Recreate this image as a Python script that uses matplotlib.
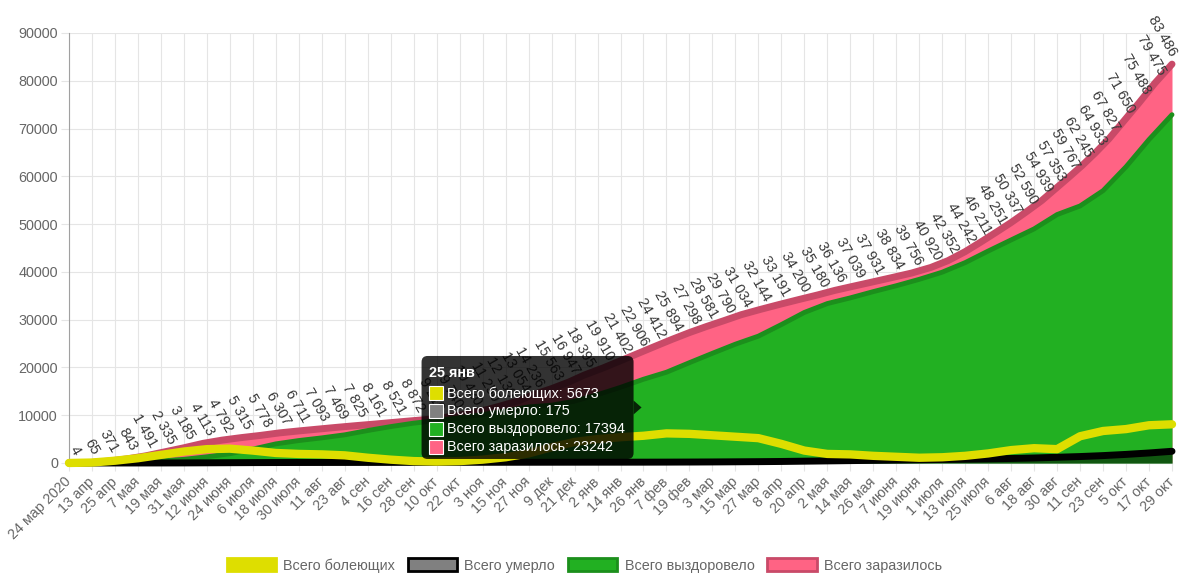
import matplotlib
matplotlib.use('Agg')
import matplotlib.pyplot as plt
from matplotlib.patches import Patch, Rectangle, FancyBboxPatch, Polygon
from matplotlib.transforms import IdentityTransform

plt.rcParams['font.family'] = ['Liberation Sans', 'DejaVu Sans']

# x axis: one category per data point, a tick label every 12 points
tick_labels = ['24 мар 2020', '13 апр', '25 апр', '7 мая', '19 мая', '31 мая', '12 июня', '24 июня',
               '6 июля', '18 июля', '30 июля', '11 авг', '23 авг', '4 сен', '16 сен', '28 сен',
               '10 окт', '22 окт', '3 ноя', '15 ноя', '27 ноя', '9 дек', '21 дек', '2 янв',
               '14 янв', '26 янв', '7 фев', '19 фев', '3 мар', '15 мар', '27 мар', '8 апр',
               '20 апр', '2 мая', '14 мая', '26 мая', '7 июня', '19 июня', '1 июля', '13 июля',
               '25 июля', '6 авг', '18 авг', '30 авг', '11 сен', '23 сен', '5 окт', '17 окт', '29 окт']
tick_step = 12
tick_pos = [i * tick_step for i in range(len(tick_labels))]

# total infected, at the points that carry a value label
label_pos = [0, 10, 20, 30, 40, 50, 60, 70, 80, 90, 100, 110, 120, 130, 140, 150, 160, 170, 180,
             190, 200, 210, 219, 227, 235, 242, 252, 261, 269, 279, 288, 297, 306, 315, 324, 333,
             342, 351, 361, 371, 381, 391, 400, 410, 420, 430, 440, 450, 459, 468, 476, 484, 492,
             500, 508, 515, 522, 529, 536, 543, 551, 559, 567, 576]
infected = [4, 65, 371, 843, 1491, 2335, 3185, 4113, 4792, 5315, 5778, 6307, 6711, 7093, 7469,
            7825, 8161, 8521, 8872, 9210, 9740, 10420, 11250, 12130, 13054, 14236, 15563, 16947,
            18395, 19910, 21402, 22906, 24412, 25894, 27298, 28581, 29790, 31034, 32144, 33191,
            34200, 35180, 36136, 37039, 37931, 38834, 39756, 40920, 42352, 44242, 46211, 48251,
            50337, 52590, 54939, 57353, 59767, 62245, 64933, 67827, 71650, 75488, 79475, 83486]

# other series, read at the tick points
active = [4, 100, 480, 1000, 1700, 2400, 2900, 3000, 2600, 2100, 1900, 1800, 1600, 1100, 700, 400,
          300, 400, 700, 1200, 2000, 3300, 4400, 5000, 5400, 5700, 6200, 6100, 5800, 5500, 5200,
          4000, 2600, 1900, 1800, 1500, 1300, 1100, 1200, 1500, 2000, 2700, 3100, 2900, 5600, 6700,
          7100, 7900, 8100]
dead = [0, 0, 2, 5, 10, 20, 40, 60, 80, 95, 105, 110, 115, 120, 125, 130, 135, 140, 145, 150, 155,
        160, 165, 168, 172, 175, 185, 200, 220, 250, 280, 320, 380, 440, 500, 560, 620, 680, 740,
        800, 870, 950, 1050, 1200, 1350, 1550, 1800, 2100, 2450]
recovered = [0, 20, 80, 230, 460, 770, 1300, 1940, 2910, 4000, 4700, 5260, 5900, 6800, 7620, 8340,
             8880, 9470, 10130, 10900, 11740, 12100, 12930, 14290, 15830, 17530, 19000, 21000,
             22960, 24870, 26550, 28970, 31510, 33370, 34560, 35870, 37100, 38440, 39940, 41940,
             44360, 46690, 49000, 52000, 53800, 57000, 62000, 67700, 72900]

series_names = ['Всего болеющих', 'Всего умерло', 'Всего выздоровело', 'Всего заразилось']

# hovered point shown in the tooltip
tip_title = '25 янв'
tip_pos = 299
tip_values = [5673, 175, 17394, 23242]

c_yellow = '#dede00'
c_green = '#22b022'
c_green_edge = '#1c8f1c'
c_pink = '#ff6384'
c_pink_edge = '#c94a68'

fig = plt.figure(figsize=(11.83, 5.73), dpi=100)
ax = fig.add_axes([69 / 1183, 110 / 573, 1103 / 1183, 430 / 573])

ax.fill_between(label_pos, infected, color=c_pink, lw=0, zorder=1)
ax.plot(label_pos, infected, color=c_pink_edge, lw=5, zorder=2, solid_capstyle='round', clip_on=False)
ax.fill_between(tick_pos, recovered, color=c_green, lw=0, zorder=3)
ax.plot(tick_pos, recovered, color=c_green_edge, lw=3.5, zorder=4, solid_capstyle='round', clip_on=False)
ax.fill_between(tick_pos, dead, color='black', alpha=0.5, lw=0, zorder=5)
ax.plot(tick_pos, dead, color='black', lw=5, zorder=6, solid_capstyle='round', clip_on=False)
ax.plot(tick_pos, active, color=c_yellow, lw=6, zorder=7, solid_capstyle='round', clip_on=False)

# value labels: the end of each rotated label sits just above-right of its point,
# the last one is pulled in so it stays inside the canvas
for k, (p, v) in enumerate(zip(label_pos, infected)):
    dx = 5.5 if k < len(label_pos) - 1 else 1.0
    ax.annotate(f'{v:,}'.replace(',', ' '), (p, v), xytext=(dx, 6.5), textcoords='offset points',
                rotation=-60, rotation_mode='anchor', ha='right', va='center', fontsize=10.4,
                color='#3a3a3a', zorder=8, annotation_clip=False)

ax.set_xlim(0, tick_pos[-1])
ax.set_ylim(0, 90000)
ax.set_xticks(tick_pos)
ax.set_xticklabels(tick_labels, rotation=45, ha='right', va='center', rotation_mode='anchor')
ax.set_yticks(range(0, 90001, 10000))
ax.grid(True, color='#e5e5e5', lw=0.8, zorder=0)
ax.set_axisbelow(True)
ax.tick_params(axis='both', color='#e5e5e5', length=6, width=0.8, labelcolor='#666666',
               labelsize=10.4)
ax.tick_params(axis='y', pad=2)
ax.tick_params(axis='x', pad=6)
for s in ['top', 'right']:
    ax.spines[s].set_visible(False)
ax.spines['left'].set_color('#a0a0a0')
ax.spines['bottom'].set_color('#d0d0d0')

# tooltip
avg = sum(tip_values) / len(tip_values)
tx, ty = ax.transData.transform((tip_pos, avg))
bw, bh, caret = 212, 103, 8
bx = tx - caret - bw
by = ty - bh / 2
ident = IdentityTransform()
fig.patches.append(FancyBboxPatch((bx, by), bw, bh, boxstyle='round,pad=0,rounding_size=6',
                                  transform=ident, facecolor=(0, 0, 0, 0.8), edgecolor='none',
                                  zorder=20))
fig.patches.append(Polygon([(tx - caret, ty + 7), (tx, ty), (tx - caret, ty - 7)], closed=True,
                           transform=ident, facecolor=(0, 0, 0, 0.8), edgecolor='none', zorder=20))
fig.text(bx + 7, by + bh - 17, tip_title, transform=ident, color='white', fontsize=10.4,
         fontweight='bold', va='center', ha='left', zorder=21)
tip_colors = [c_yellow, '#808080', c_green, c_pink]
for k, (name, val, col) in enumerate(zip(series_names, tip_values, tip_colors)):
    cy = by + bh - 37.5 - k * 17.7
    fig.patches.append(Rectangle((bx + 7, cy - 7), 14, 14, transform=ident, facecolor=col,
                                 edgecolor='white', lw=0.8, zorder=21))
    fig.text(bx + 25, cy, f'{name}: {val}', transform=ident, color='white', fontsize=10.4,
             va='center', ha='left', zorder=21)

handles = [Patch(facecolor=c_yellow, edgecolor=c_yellow, lw=2),
           Patch(facecolor='#808080', edgecolor='black', lw=2),
           Patch(facecolor=c_green, edgecolor=c_green_edge, lw=2),
           Patch(facecolor=c_pink, edgecolor=c_pink_edge, lw=2)]
fig.legend(handles, series_names, loc='lower center', bbox_to_anchor=(0.494, -0.012), ncol=4,
           frameon=False, fontsize=10.4, labelcolor='#666666', handlelength=3.4,
           handleheight=0.95, handletextpad=0.5, columnspacing=0.9, borderpad=0)

fig.savefig('out.png', dpi=100)
